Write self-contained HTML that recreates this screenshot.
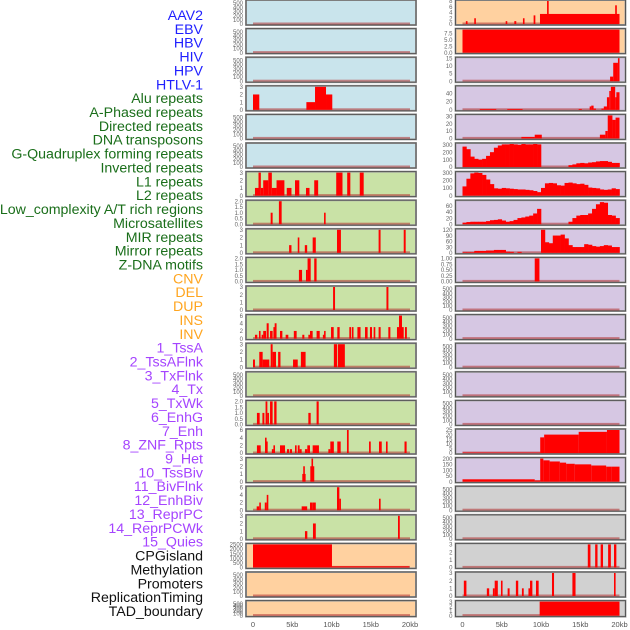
<!DOCTYPE html>
<html><head><meta charset="utf-8"><style>
html,body{margin:0;padding:0;background:#fff;width:630px;height:630px;overflow:hidden}
svg{display:block;font-family:"Liberation Sans",sans-serif}
</style></head><body>
<svg id="c" width="630" height="630" viewBox="0 0 630 630"></svg>
<script>
const featureLabels=["AAV2","EBV","HBV","HIV","HPV","HTLV-1","Alu repeats","A-Phased repeats","Directed repeats","DNA transposons","G-Quadruplex forming repeats","Inverted repeats","L1 repeats","L2 repeats","Low_complexity A/T rich regions","Microsatellites","MIR repeats","Mirror repeats","Z-DNA motifs","CNV","DEL","DUP","INS","INV","1_TssA","2_TssAFlnk","3_TxFlnk","4_Tx","5_TxWk","6_EnhG","7_Enh","8_ZNF_Rpts","9_Het","10_TssBiv","11_BivFlnk","12_EnhBiv","13_ReprPC","14_ReprPCWk","15_Quies","CPGisland","Methylation","Promoters","ReplicationTiming","TAD_boundary"];
const labelGroups=[0,0,0,0,0,0,1,1,1,1,1,1,1,1,1,1,1,1,1,2,2,2,2,2,3,3,3,3,3,3,3,3,3,3,3,3,3,3,3,4,4,4,4,4];
const xTickLabels=["0","5kb","10kb","15kb","20kb"];
const xTickValues=[0,5000,10000,15000,20000];
// segment data: [startKb, endKb, value]
const leftAlu=[[0,0.8,2],[6.8,7.9,1],[7.9,9.3,3],[9.3,10.1,2]];
const leftInverted=[[0.25,0.7,1],[0.7,1.0,3],[1.0,1.3,1],[1.3,1.95,2],[1.95,2.4,3],[2.4,3.0,1],[3.0,4.0,2],[4.3,4.9,1],[5.35,5.9,2],[6.75,7.2,1],[7.8,8.3,2],[10.6,11.4,3],[12.0,12.4,3],[13.6,14.1,3]];
const leftL1=[[2.25,2.5,1],[3.3,3.65,2],[9.05,9.25,1]];
const leftL2=[[4.6,4.9,1],[5.7,5.9,2],[6.6,6.9,1],[7.6,8.0,2],[10.7,11.2,3],[16.0,16.25,3],[19.2,19.45,3]];
const leftLowAT=[[5.85,6.25,1],[6.75,6.95,1],[6.95,7.35,2],[7.8,8.1,2]];
const leftMicro=[[10.2,10.45,3],[17.0,17.25,3]];
const leftMIR=[[0.25,0.55,1],[0.76,0.96,2],[1.1,1.3,1],[1.3,1.66,2],[1.74,2.0,4],[2.17,2.5,2],[2.6,2.76,3],[2.76,3.0,4],[3.44,3.74,2],[4.16,4.5,1],[5.2,5.56,2],[6.28,6.54,1],[7.05,7.26,1],[7.26,7.6,2],[8.1,8.5,2],[8.9,9.05,1],[9.05,9.2,2],[9.94,10.28,3],[10.74,11.04,3],[12.27,12.5,3],[12.6,12.8,3],[13.3,13.7,3],[14.27,14.6,3],[14.9,15.16,3],[15.37,15.58,3],[16.0,16.26,3],[17.24,17.5,3],[18.34,18.6,3],[18.6,18.98,6],[18.98,19.2,3],[19.36,19.6,3]];
const leftMirror=[[0,0.25,1],[0.8,1.23,2],[1.23,2.08,1],[2.25,2.5,3],[2.5,2.93,2],[3.2,3.5,2],[5.1,5.7,1],[6.1,6.7,2],[10.3,10.7,3],[10.8,11.7,3]];
const leftDEL=[[0.5,0.85,1],[1.2,1.45,1],[1.6,1.83,2],[1.83,1.95,1],[2.17,2.5,2],[2.7,3.0,2],[7.05,7.35,1],[8.1,8.37,2]];
const leftDUP=[[0.5,0.98,2],[1.53,1.65,4],[1.65,1.87,3],[2.4,2.6,1],[2.6,2.8,2],[3.44,4.08,2],[4.33,4.6,1],[4.7,4.97,1],[5.35,5.56,2],[5.7,5.94,2],[5.94,6.2,1],[6.62,6.92,1],[6.92,7.26,2],[7.6,8.4,2],[9.6,9.85,1],[9.85,10.3,3],[10.74,11.17,3],[11.97,12.19,6],[14.78,15.0,3],[16.05,16.4,3],[16.94,17.15,3],[19.3,19.57,3]];
const leftINS=[[6.28,6.4,1],[6.4,6.5,2],[6.5,6.7,1],[7.3,7.45,2],[7.45,7.6,3],[7.6,7.75,2]];
const leftINV=[[0.47,0.8,1],[0.8,0.95,2],[1.5,1.75,2],[1.75,1.87,4],[6.2,6.9,1],[7.26,7.55,2],[7.55,8.0,2],[10.7,11.0,6],[11.0,11.17,3],[16.05,16.26,3]];
const leftTssA=[[6.62,6.92,1],[7.64,8.0,2],[18.47,18.7,3]];
const leftCPG=[[0,10.06,2500],[10.06,19.9,120]];
const rightAAV2=[[0.43,0.64,1],[1.5,1.66,2],[5.5,5.7,1],[6.6,6.85,1],[7.7,7.9,2],[9.06,9.28,3],[9.87,20,3.5],[10.77,10.98,8],[19.45,19.66,6.5]];
const rightEBV=[[0,20,9]];
const rightHBV=[[18.8,19.2,3],[19.2,19.8,12],[19.8,20,15]];
const rightHIV=[[2.2,4.3,2],[5.7,7.65,2],[14.8,15.2,2],[16.2,16.4,8],[16.4,16.7,10],[16.7,17.0,3],[17.7,18.0,3],[18.0,18.4,8],[18.4,18.7,30],[18.7,18.9,45],[18.9,19.45,55],[19.45,19.6,30],[19.6,20,42]];
const rightHPV=[[7.5,9.2,2],[9.2,10.1,5],[17.5,18.2,5],[18.2,18.5,10],[18.5,19.1,31],[19.1,19.5,25],[19.5,20,28]];
const rightZDNA=[[9.2,9.8,1]];
const rightTxWk=[[0,9.9,0.5],[9.9,10.4,17],[10.4,14.8,20],[14.8,18.4,23],[18.4,20,25]];
const rightEnhG=[[0,9.2,20],[9.2,9.9,10],[9.9,10.3,200],[10.3,11.1,185],[11.1,12.4,175],[12.4,13.2,165],[13.2,14.3,155],[14.3,16.4,150],[16.4,18.3,140],[18.3,19.0,130],[19.0,20,130]];
const rightCPG=[[15.96,16.3,3],[16.9,17.2,3],[17.6,17.9,3],[18.55,18.9,3],[19.3,19.6,3]];
const rightPromoters=[[0.17,0.5,2],[3.1,3.4,1],[3.87,4.1,1],[4.1,4.5,2],[4.9,5.1,2],[5.75,6.0,1],[6.8,7.1,2],[7.57,7.8,1],[8.4,8.6,1],[8.6,8.9,2],[9.36,9.7,2],[11.4,11.66,3],[14.0,14.4,3],[19.3,19.5,3]];
const rightTAD=[[9.83,20,3]];
// binned data (0.5kb bins, 40 bins)
const rightGQuad=[275,240,140,110,100,110,150,200,260,290,305,305,310,305,300,310,305,305,310,305,0,0,0,0,0,0,0,25,35,50,55,50,60,65,75,80,80,70,55,55];
const rightInverted=[120,220,290,300,295,270,210,150,95,90,100,95,90,85,80,80,75,70,60,45,100,160,165,160,135,130,165,170,160,150,155,140,105,100,95,80,75,80,95,85];
const rightL1=[5,7,8,8,8,8,10,13,14,16,12,8,10,14,20,22,25,28,35,50,0,0,0,0,0,0,0,8,20,28,30,30,35,50,65,72,70,30,28,20];
const rightL2=[3,3,3,10,10,10,12,12,15,15,15,6,5,0,5,0,0,0,0,0,120,55,50,90,90,95,75,40,30,30,30,45,42,35,32,35,40,38,30,30];

const E=[0,100,200,300,400,500];
const leftPanels=[
 {bg:"#c9e4ec",ymax:500,ticks:E},{bg:"#c9e4ec",ymax:500,ticks:E},{bg:"#c9e4ec",ymax:500,ticks:E},
 {bg:"#c9e4ec",ymax:3,ticks:[0,1,2,3],seg:leftAlu},{bg:"#c9e4ec",ymax:500,ticks:E},{bg:"#c9e4ec",ymax:500,ticks:E},
 {bg:"#c9e2a6",ymax:3,ticks:[0,1,2,3],seg:leftInverted},{bg:"#c9e2a6",ymax:2,ticks:[0,0.5,1,1.5,2],dec:1,seg:leftL1},
 {bg:"#c9e2a6",ymax:3,ticks:[0,1,2,3],seg:leftL2},{bg:"#c9e2a6",ymax:2,ticks:[0,0.5,1,1.5,2],dec:1,seg:leftLowAT},
 {bg:"#c9e2a6",ymax:3,ticks:[0,1,2,3],seg:leftMicro},{bg:"#c9e2a6",ymax:6,ticks:[0,2,4,6],seg:leftMIR},
 {bg:"#c9e2a6",ymax:3,ticks:[0,1,2,3],seg:leftMirror},{bg:"#c9e2a6",ymax:500,ticks:E},
 {bg:"#c9e2a6",ymax:2,ticks:[0,0.5,1,1.5,2],dec:1,seg:leftDEL},{bg:"#c9e2a6",ymax:6,ticks:[0,2,4,6],seg:leftDUP},
 {bg:"#c9e2a6",ymax:3,ticks:[0,1,2,3],seg:leftINS},{bg:"#c9e2a6",ymax:6,ticks:[0,2,4,6],seg:leftINV},
 {bg:"#c9e2a6",ymax:3,ticks:[0,1,2,3],seg:leftTssA},{bg:"#ffd1a0",ymax:2500,ticks:[0,500,1000,1500,2000,2500],seg:leftCPG},
 {bg:"#ffd1a0",ymax:500,ticks:E},{bg:"#ffd1a0",ymax:500,ticks:E}
];
const rightPanels=[
 {bg:"#ffd1a0",ymax:8,ticks:[0,2,4,6,8],seg:rightAAV2},{bg:"#ffd1a0",ymax:9,ticks:[0,2.5,5,7.5],dec:1,seg:rightEBV},
 {bg:"#d6c7e3",ymax:15,ticks:[0,5,10,15],seg:rightHBV},{bg:"#d6c7e3",ymax:55,ticks:[0,20,40],seg:rightHIV},
 {bg:"#d6c7e3",ymax:31,ticks:[0,10,20,30],seg:rightHPV},{bg:"#d6c7e3",ymax:310,ticks:[0,100,200,300],bins:rightGQuad},
 {bg:"#d6c7e3",ymax:300,ticks:[0,100,200,300],bins:rightInverted},{bg:"#d6c7e3",ymax:75,ticks:[0,20,40,60],bins:rightL1},
 {bg:"#d6c7e3",ymax:120,ticks:[0,30,60,90,120],bins:rightL2},{bg:"#d6c7e3",ymax:1,ticks:[0,0.25,0.5,0.75,1],dec:2,seg:rightZDNA},
 {bg:"#d6c7e3",ymax:500,ticks:E},{bg:"#d6c7e3",ymax:500,ticks:E},{bg:"#d6c7e3",ymax:500,ticks:E},
 {bg:"#d6c7e3",ymax:500,ticks:E},{bg:"#d6c7e3",ymax:500,ticks:E},
 {bg:"#d6c7e3",ymax:25,ticks:[0,5,10,15,20,25],seg:rightTxWk},{bg:"#d6c7e3",ymax:200,ticks:[0,50,100,150,200],seg:rightEnhG},
 {bg:"#d1d1d1",ymax:500,ticks:E},{bg:"#d1d1d1",ymax:500,ticks:E},
 {bg:"#d1d1d1",ymax:3,ticks:[0,1,2,3],seg:rightCPG},{bg:"#d1d1d1",ymax:3,ticks:[0,1,2,3],seg:rightPromoters},
 {bg:"#d1d1d1",ymax:3,ticks:[0,1,2,3],seg:rightTAD}
];

const NS="http://www.w3.org/2000/svg";
const svg=document.getElementById('c');
function mk(tag,attrs,parent){const e=document.createElementNS(NS,tag);for(const k in attrs)e.setAttribute(k,attrs[k]);(parent||svg).appendChild(e);return e;}
const groupColors=["#1f1fff","#1a6e1a","#ffa51f","#a544ff","#111111"];
featureLabels.forEach((t,i)=>{
  const el=mk('text',{x:203,y:15+i*13.86+5,'text-anchor':'end','font-size':'14.2',fill:groupColors[labelGroups[i]]});
  el.textContent=t;
  
  
});
function drawCol(panels,px0,colName){
  const pw=170, dataX0=px0+7, dataW=157;
  const xs=kb=>dataX0+kb/20*dataW;
  panels.forEach((p,i)=>{
    const top=i*28.6, h=(i===21)?16:25, bottom=top+h;
    const g=mk('g',{});
    
    
    mk('rect',{x:px0,y:top,width:pw,height:h,fill:p.bg,stroke:'#a8a8a8','stroke-width':2},g);
    const ys=v=>bottom-1-v/p.ymax*(h-2);
    // baseline
    const bl=mk('rect',{x:xs(0),y:bottom-2.5,width:dataW,height:2,fill:'#b03030','fill-opacity':0.55},g);
    
    
    let segs=[];
    if(p.seg) segs=p.seg;
    if(p.bins) segs=p.bins.map((v,k)=>[k*0.5,k*0.5+0.5,v]);
    segs.forEach(s=>{
      if(s[2]<=0)return;
      const r=mk('rect',{x:xs(s[0]),y:ys(s[2]),width:Math.max(1.6,xs(s[1])-xs(s[0])+(p.bins?0.3:0)),height:bottom-1-ys(s[2]),fill:'#ff0000'},g);
      
      
    });
    mk('rect',{x:px0,y:top,width:pw,height:h,fill:'none',stroke:'#555','stroke-width':1},g);
    const n=p.ticks.length;
    p.ticks.forEach((tv,k)=>{
      let y;
      if(p.seg||p.bins) y=ys(tv);
      else y=bottom-1-k/(n-1)*(h-4);
      const tx=mk('text',{x:px0-3,y:y+2.2,'text-anchor':'end','font-size':'6',fill:'#666'},g);
      tx.textContent=p.dec?tv.toFixed(p.dec):String(tv);
      
      
    });
  });
  xTickValues.forEach((v,k)=>{
    const tx=mk('text',{x:xs(v/1000),y:627,'text-anchor':'middle','font-size':'7.5',fill:'#555'});
    tx.textContent=xTickLabels[k];
    
    
  });
}
drawCol(leftPanels,246,'left');
drawCol(rightPanels,455.5,'right');
</script>
</body></html>
